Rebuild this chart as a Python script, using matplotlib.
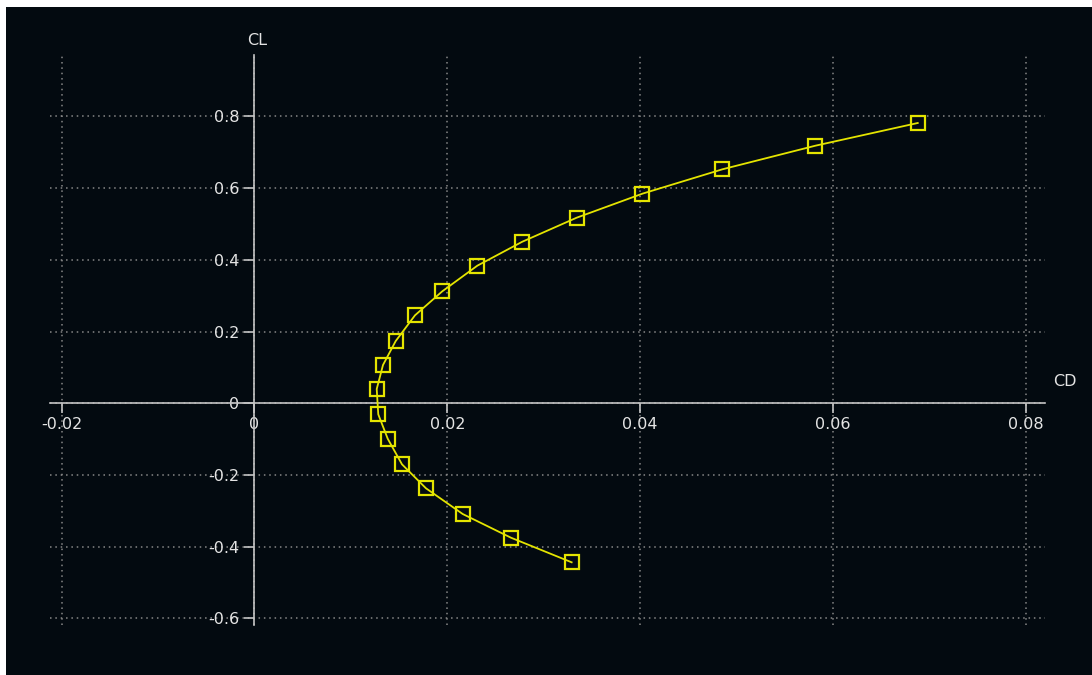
import numpy as np
import matplotlib
matplotlib.use("Agg")
import matplotlib.pyplot as plt
from matplotlib.patches import Rectangle

# polar data (CD, CL)
cd = [0.03290, 0.02661, 0.02160, 0.01779, 0.01530, 0.01382, 0.01284,
      0.01268, 0.01333, 0.01465, 0.01665, 0.01948, 0.02311, 0.02778,
      0.03342, 0.04023, 0.04853, 0.05817, 0.06880]
cl = [-0.4434, -0.3748, -0.3087, -0.2370, -0.1701, -0.0987, -0.0307,
      0.0399, 0.1068, 0.1737, 0.2454, 0.3123, 0.3837, 0.4506,
      0.5176, 0.5845, 0.6525, 0.7183, 0.7817]

xticks = [-0.02, 0, 0.02, 0.04, 0.06, 0.08]
xlabels = ["-0.02", "0", "0.02", "0.04", "0.06", "0.08"]
yticks = [-0.6, -0.4, -0.2, 0, 0.2, 0.4, 0.6, 0.8]
ylabels = ["-0.6", "-0.4", "-0.2", "0", "0.2", "0.4", "0.6", "0.8"]

bg = "#030a10"
fg = "#e4e4e4"
axis_col = "#c4c4c4"
yellow = "#e4e400"

W, H = 1092, 675
fig = plt.figure(figsize=(W / 100, H / 100), dpi=100, facecolor="white")
fig.add_artist(Rectangle((6 / W, 0), 1 - 6 / W, (H - 7) / H,
                         transform=fig.transFigure, facecolor=bg,
                         edgecolor="none", zorder=-10))

ax = fig.add_axes([50 / W, (H - 625) / H, 995 / W, 570 / H])
ax.set_facecolor("none")

ax.plot(cd, cl, color=yellow, lw=1.3, marker="s", markersize=9.5,
        markerfacecolor="none", markeredgecolor=yellow, markeredgewidth=1.6,
        zorder=3)

ax.set_xlim(-0.02121, 0.0820)
ax.set_ylim(-0.6182, 0.9713)

for side in ["top", "right"]:
    ax.spines[side].set_visible(False)
for side in ["left", "bottom"]:
    ax.spines[side].set_position(("data", 0))
    ax.spines[side].set_color(axis_col)
    ax.spines[side].set_linewidth(1.2)

ax.set_xticks(xticks)
ax.set_xticklabels(xlabels)
ax.set_yticks(yticks)
ax.set_yticklabels(ylabels)
ax.tick_params(axis="both", colors=axis_col, labelcolor=fg, labelsize=11.5,
               length=7, width=1.2, direction="out")
ax.tick_params(axis="x", pad=3)
ax.tick_params(axis="y", pad=4)

ax.grid(True, color="#888888", linestyle=(0, (1, 2.5)), linewidth=1.1)
ax.set_axisbelow(True)

ax.annotate("CL", xy=(0, 1), xycoords=("data", "axes fraction"),
            xytext=(2, 5), textcoords="offset points", ha="center",
            va="bottom", color=fg, fontsize=11.5)
ax.annotate("CD", xy=(1, 0), xycoords=("axes fraction", "data"),
            xytext=(6, 16), textcoords="offset points", ha="left",
            va="center", color=fg, fontsize=11.5)

fig.savefig("out.png", dpi=100, facecolor=fig.get_facecolor())
